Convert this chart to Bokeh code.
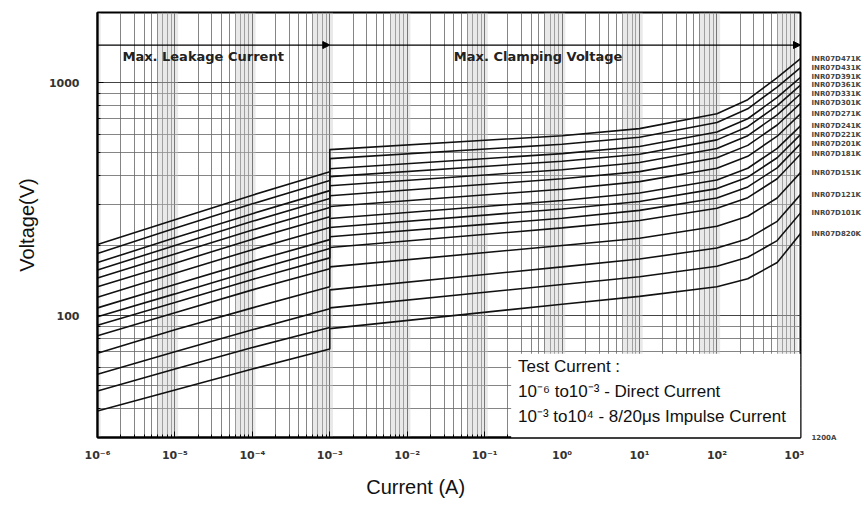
import math
from bokeh.plotting import figure
from bokeh.models import (FixedTicker, CustomJSTickFormatter, Label, Arrow,
                          NormalHead, BoxAnnotation, Range1d, LogAxis)
from bokeh.embed import file_html
from bokeh.resources import INLINE

# ---------------- data ----------------
part_names = ["INR07D471K", "INR07D431K", "INR07D391K", "INR07D361K", "INR07D331K",
              "INR07D301K", "INR07D271K", "INR07D241K", "INR07D221K", "INR07D201K",
              "INR07D181K", "INR07D151K", "INR07D121K", "INR07D101K", "INR07D820K"]
max_current_label = "1200A"

# leakage region (direct current), current in A
leak_current = [1e-6, 1e-5, 1e-4, 1e-3]
leak_v_1e6 = [202, 185, 169, 157, 145, 133, 120, 108, 99, 91, 82, 69, 56, 47.5, 39]
leak_v_1e5 = [258, 237, 216, 200, 184, 168, 152, 136, 124, 114, 103, 87, 70, 59, 48]
leak_v_1e4 = [329, 302, 274, 254, 233, 213, 192, 171, 156, 143, 129, 108, 87, 73, 59]
leak_v_1e3 = [415, 380, 344, 318, 291, 266, 239, 212, 194, 177, 159, 133, 107, 89, 72]

# clamping region (8/20us impulse), current in A
clamp_current = [1e-3, 1, 10, 100, 250, 600, 1200]
clamp_v_1e3 = [516, 472, 427, 395, 361, 327, 294, 261, 239, 218, 196, 162, 129, 108, 88]
clamp_v_1 = [592, 544, 496, 460, 423, 387, 349, 312, 287, 262, 238, 200, 162, 136, 112]
clamp_v_10 = [635, 583, 532, 493, 454, 415, 376, 336, 309, 283, 256, 215, 175, 147, 121]
clamp_v_100 = [736, 674, 614, 568, 522, 476, 429, 382, 351, 320, 289, 242, 195, 163, 133]
clamp_v_250 = [845, 772, 700, 647, 592, 538, 483, 429, 393, 357, 321, 267, 214, 178, 144]
clamp_v_600 = [1051, 957, 865, 797, 727, 658, 589, 522, 476, 431, 387, 320, 254, 210, 169]
clamp_v_1200 = [1268, 1160, 1054, 976, 894, 815, 734, 653, 599, 546, 493, 411, 331, 276, 225]

x_major = [1e-6, 1e-5, 1e-4, 1e-3, 1e-2, 1e-1, 1, 10, 100, 1000]
y_major = [100, 1000]

# ---------------- figure ----------------
p = figure(x_axis_type="log", y_axis_type="log",
           x_range=Range1d(1e-6, 1200), y_range=Range1d(30, 2000),
           frame_width=703, frame_height=425,
           min_border_left=97, min_border_right=56, min_border_top=12, min_border_bottom=72,
           output_backend="svg", toolbar_location=None,
           background_fill_color="white", border_fill_color="white")

x_minor = [m * d for d in x_major for m in range(2, 10)]
y_minor = [m * d for d in [10] + y_major for m in range(2, 10)]
p.xaxis.ticker = FixedTicker(ticks=x_major, minor_ticks=x_minor)
p.yaxis.ticker = FixedTicker(ticks=y_major, minor_ticks=y_minor)

p.xaxis.formatter = CustomJSTickFormatter(code="""
const e = Math.round(Math.log10(tick));
const m = {'-':'\u207b','0':'\u2070','1':'\u00b9','2':'\u00b2','3':'\u00b3','4':'\u2074',
           '5':'\u2075','6':'\u2076','7':'\u2077','8':'\u2078','9':'\u2079'};
return '10' + String(e).split('').map(c => m[c]).join('');
""")
p.yaxis.formatter = CustomJSTickFormatter(code="return String(Math.round(tick));")

for ax in (p.xaxis, p.yaxis):
    ax.major_tick_in = 6
    ax.major_tick_out = 0
    ax.minor_tick_in = 3
    ax.minor_tick_out = 0
    ax.axis_line_width = 2
    ax.axis_line_color = "black"
    ax.major_tick_line_color = "black"
    ax.minor_tick_line_color = "black"
    ax.major_label_text_font = "DejaVu Sans"
    ax.major_label_text_font_style = "bold"
    ax.major_label_text_font_size = "11px"
    ax.major_label_text_color = "#333333"
    ax.axis_label_text_font = "Liberation Sans"
    ax.axis_label_text_font_style = "normal"
    ax.axis_label_text_font_size = "20px"
    ax.axis_label_text_color = "#111111"

p.xaxis.major_label_standoff = 11
p.yaxis.major_label_standoff = 18
p.xaxis.axis_label = "Current (A)" + "\u00a0" * 12
p.xaxis.axis_label_standoff = 11
p.yaxis.axis_label = "Voltage(V)"
p.yaxis.axis_label_standoff = 8

p.outline_line_color = "black"
p.outline_line_width = 2
p.outline_line_alpha = 1

for g in (p.xgrid, p.ygrid):
    g.grid_line_color = "#444444"
    g.grid_line_width = 1
    g.minor_grid_line_color = "#666666"
    g.minor_grid_line_width = 1
    g.minor_grid_line_alpha = 0.8

# scanned-looking gray bands around each decade line
for d in x_major:
    p.add_layout(BoxAnnotation(left=0.6 * d, right=1.1 * d, fill_color="#c8c8c8",
                               fill_alpha=0.4, line_color=None, level="underlay"))

# curves
for i in range(len(part_names)):
    xs = leak_current + clamp_current
    ys = [leak_v_1e6[i], leak_v_1e5[i], leak_v_1e4[i], leak_v_1e3[i],
          clamp_v_1e3[i], clamp_v_1[i], clamp_v_10[i], clamp_v_100[i],
          clamp_v_250[i], clamp_v_600[i], clamp_v_1200[i]]
    p.line(xs, ys, line_color="#111111", line_width=1.6)

# part names (at the curve ends) and the max-current note on a right-hand axis
y_low = p.y_range.start
name_axis = LogAxis(ticker=FixedTicker(ticks=clamp_v_1200 + [y_low], minor_ticks=[]),
                    formatter=CustomJSTickFormatter(
                        args=dict(vals=clamp_v_1200, names=part_names,
                                  low=y_low, low_text=max_current_label), code="""
if (Math.abs(tick - low) < 1e-6) return low_text;
let best = 0;
for (let i = 0; i < vals.length; i++) {
  if (Math.abs(vals[i] - tick) < Math.abs(vals[best] - tick)) best = i;
}
return names[best];
"""),
                    axis_line_color=None, major_tick_line_color=None, minor_tick_line_color=None,
                    major_tick_in=0, major_tick_out=0, minor_tick_in=0, minor_tick_out=0,
                    major_label_text_font="DejaVu Sans", major_label_text_font_style="bold",
                    major_label_text_font_size="7px",
                    major_label_text_color="#444444", major_label_standoff=11)
p.add_layout(name_axis, "right")

# region arrows and titles
arrow_v = 1450
p.add_layout(Arrow(x_start=leak_current[0], y_start=arrow_v, x_end=leak_current[-1], y_end=arrow_v,
                   line_color="black", line_width=1.2,
                   end=NormalHead(size=7, fill_color="black", line_color="black")))
p.add_layout(Arrow(x_start=clamp_current[0], y_start=arrow_v, x_end=clamp_current[-1], y_end=arrow_v,
                   line_color="black", line_width=1.2,
                   end=NormalHead(size=7, fill_color="black", line_color="black")))
p.add_layout(Label(x=2.1e-6, y=1294, text="Max. Leakage Current", text_font="DejaVu Sans",
                   text_font_style="bold", text_font_size="13px", text_color="#222222",
                   text_baseline="middle"))
p.add_layout(Label(x=0.04, y=1294, text="Max. Clamping Voltage", text_font="DejaVu Sans",
                   text_font_style="bold", text_font_size="13px", text_color="#222222",
                   text_baseline="middle"))

# test current box
p.add_layout(BoxAnnotation(left=0.22, right=1200, bottom=30, top=68.7,
                           fill_color="white", fill_alpha=1, line_color=None))
for yy, t in [(60.4, "Test Current :"),
              (47.2, "10\u207b\u2076 to10\u207b\u00b3 - Direct Current"),
              (36.9, "10\u207b\u00b3 to10\u2074 - 8/20\u03bcs Impulse Current")]:
    p.add_layout(Label(x=0.27, y=yy, text=t, text_font="Liberation Sans",
                       text_font_size="17px", text_color="#111111", text_baseline="middle"))

open("out.html", "w").write(file_html(p, INLINE))
